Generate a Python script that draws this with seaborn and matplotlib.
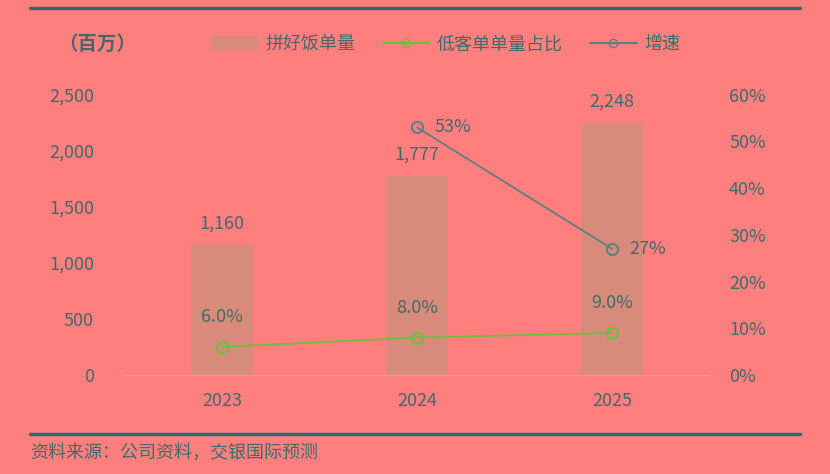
import matplotlib
matplotlib.use("Agg")
import matplotlib.pyplot as plt
import seaborn as sns
import pandas as pd
from matplotlib.lines import Line2D
from matplotlib.patches import Patch

years = ["2023", "2024", "2025"]
orders = [1160, 1777, 2248]
low_share = [6.0, 8.0, 9.0]
growth_years = ["2024", "2025"]
growth = [53, 27]

sns.set_style("white")
plt.rcParams['font.family'] = ['Noto Sans CJK SC', 'DejaVu Sans']
bg = "#FF7F7F"
tc = "#3F6B6B"
barc = "#D98B7B"
greenc = "#6CBF3A"
greyc = "#5E7F80"

fig = plt.figure(figsize=(8.3, 4.74), dpi=100, facecolor=bg)
ax = fig.add_axes([0.15, 0.209, 0.705, 0.591], facecolor=bg)
df = pd.DataFrame({"year": years, "orders": orders})
sns.barplot(data=df, x="year", y="orders", color=barc, width=0.32, ax=ax,
            saturation=1, linewidth=0, edgecolor=barc)
ax.set_xlim(-0.5, 2.5)
ax.set_ylim(0, 2500)
ax.set_yticks(range(0, 2501, 500))
ax.set_yticklabels([f"{v:,}" for v in range(0, 2501, 500)])
ax.set_xlabel(""); ax.set_ylabel("")
for s in ["top", "right", "left"]:
    ax.spines[s].set_visible(False)
ax.spines["bottom"].set_color("#D9A0A0")
ax.tick_params(colors=tc, labelsize=13, length=0)
ax.tick_params(axis="y", pad=22)
ax.tick_params(axis="x", pad=12)
for i, v in enumerate(orders):
    ax.text(i, v + 110, f"{v:,}", ha="center", va="bottom", color=tc, fontsize=13)

ax2 = ax.twinx()
ax2.set_ylim(0, 60)
ax2.set_yticks(range(0, 61, 10))
ax2.set_yticklabels([f"{v}%" for v in range(0, 61, 10)])
for s in ax2.spines.values():
    s.set_visible(False)
ax2.tick_params(colors=tc, labelsize=13, length=0, pad=14)
xi = [years.index(y) for y in years]
ax2.plot(xi, low_share, color=greenc, lw=1.3, marker="o", ms=8, mfc="none", mec=greenc, mew=1.5)
for i, v in zip(xi, low_share):
    ax2.text(i, v + 4.5, f"{v:.1f}%", ha="center", va="bottom", color=tc, fontsize=13)
gi = [years.index(y) for y in growth_years]
ax2.plot(gi, growth, color=greyc, lw=1.3, marker="o", ms=8, mfc="none", mec=greyc, mew=1.5)
for i, v in zip(gi, growth):
    ax2.text(i + 0.09, v, f"{v}%", ha="left", va="center", color=tc, fontsize=13)

handles = [Patch(color=barc),
           Line2D([], [], color=greenc, marker="o", mfc="none", ms=6),
           Line2D([], [], color=greyc, marker="o", mfc="none", ms=6)]
fig.legend(handles, ["拼好饭单量", "低客单单量占比", "增速"], loc="center left",
           bbox_to_anchor=(0.235, 0.907), ncol=3, frameon=False, fontsize=13,
           labelcolor=tc, handlelength=2.6, columnspacing=1.5, handletextpad=0.4)
fig.text(0.07, 0.907, "（百万）", color=tc, fontsize=14, fontweight="bold", va="center")
fig.add_artist(Line2D([0.036, 0.964], [0.983, 0.983], color="#2F6B6B", lw=2.5))
fig.add_artist(Line2D([0.036, 0.964], [0.084, 0.084], color="#2F6B6B", lw=2.5))
fig.text(0.036, 0.045, "资料来源：公司资料，交银国际预测", color=tc, fontsize=13,
         style="italic", va="center")
fig.savefig("out.png", dpi=100, facecolor=bg)
